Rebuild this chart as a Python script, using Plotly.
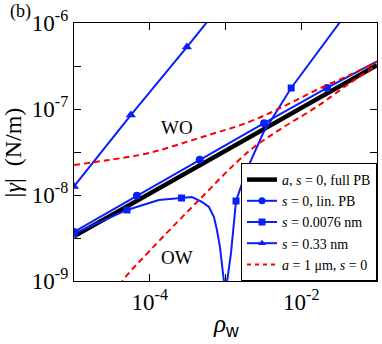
import numpy as np
import plotly.graph_objects as go

# values, stored as log10 exponents
full_pb_x = [-5.0, -4.0, -3.0, -2.0, -1.0]
full_pb_y = [-8.48, -7.98, -7.48, -6.98, -6.49]

lin_pb_x = [-5.0, -4.17, -3.34, -2.49, -1.66, -1.0]
lin_pb_y = [-8.43, -8.01, -7.59, -7.165, -6.755, -6.445]
lin_pb_mx = [-5.0, -4.17, -3.34, -2.49, -1.66]
lin_pb_my = [-8.43, -8.01, -7.59, -7.165, -6.755]

s0076_x = [-5.0, -4.65, -4.30, -3.88, -3.58, -3.444, -3.311, -3.219, -3.152, -3.113,
           -3.073, -3.046, -3.02, -3.0, -2.98, -2.927, -2.861, -2.715, -2.503, -2.133,
           -1.894, -1.656, -1.497, -1.35]
s0076_y = [-8.45, -8.31, -8.174, -8.058, -8.035, -8.023, -8.081, -8.14, -8.256, -8.407,
           -8.605, -8.837, -9.01, -10.5, -9.01, -8.674, -8.07, -7.70, -7.279, -6.756,
           -6.477, -6.198, -6.0, -5.8]
s0076_mx = [-5.0, -4.30, -3.58, -2.861, -2.133]
s0076_my = [-8.45, -8.174, -8.035, -8.07, -6.756]

s033_x = [-5.0, -4.25, -3.51, -2.77]
s033_y = [-7.90, -7.07, -6.28, -5.47]

wo_x = [-5.0, -4.54, -4.01, -3.35, -2.69, -2.25, -1.80, -1.36, -1.0]
wo_y = [-7.651, -7.593, -7.512, -7.337, -7.151, -6.977, -6.779, -6.605, -6.45]

ow_x = [-4.6, -4.36, -3.99, -3.35, -2.69, -2.25, -1.80, -1.36, -1.0]
ow_y = [-9.35, -9.0, -8.64, -8.058, -7.49, -7.22, -6.977, -6.70, -6.49]

x_tickvals = [-5, -4, -3, -2, -1]
x_ticktext = ['', '10<sup>-4</sup>', '', '10<sup>-2</sup>', '']
y_tickvals = [-9, -8.5, -8, -7.5, -7, -6.5, -6]
y_ticktext = ['10<sup>-9</sup>', '', '10<sup>-8</sup>', '', '10<sup>-7</sup>', '', '10<sup>-6</sup>']


def p(v):
    return 10 ** np.array(v, dtype=float)


BLUE = 'rgb(10,30,250)'
RED = 'rgb(250,0,0)'
SERIF = 'Liberation Serif'

fig = go.Figure()

# drawn curves
fig.add_trace(go.Scatter(x=p(full_pb_x), y=p(full_pb_y), mode='lines',
                         line=dict(color='black', width=4.5), showlegend=False))
fig.add_trace(go.Scatter(x=p(lin_pb_x), y=p(lin_pb_y), mode='lines',
                         line=dict(color=BLUE, width=2), showlegend=False))
fig.add_trace(go.Scatter(x=p(lin_pb_mx), y=p(lin_pb_my), mode='markers',
                         marker=dict(color=BLUE, size=8, symbol='circle'), showlegend=False))
fig.add_trace(go.Scatter(x=p(s0076_x), y=p(s0076_y), mode='lines',
                         line=dict(color=BLUE, width=2), showlegend=False))
fig.add_trace(go.Scatter(x=p(s0076_mx), y=p(s0076_my), mode='markers',
                         marker=dict(color=BLUE, size=7, symbol='square'), showlegend=False))
fig.add_trace(go.Scatter(x=p(s033_x), y=p(s033_y), mode='lines+markers',
                         line=dict(color=BLUE, width=2),
                         marker=dict(color=BLUE, size=9, symbol='triangle-up'), showlegend=False))
fig.add_trace(go.Scatter(x=p(wo_x), y=p(wo_y), mode='lines',
                         line=dict(color=RED, width=2, dash='6px,4px', shape='spline'),
                         showlegend=False))
fig.add_trace(go.Scatter(x=p(ow_x), y=p(ow_y), mode='lines',
                         line=dict(color=RED, width=2, dash='6px,4px', shape='spline'),
                         showlegend=False))

# legend entries
legend_items = [
    ('<i>a</i>, <i>s</i> = 0, full PB', 'lines', dict(color='black', width=4.5), None),
    ('<i>s</i> = 0, lin. PB', 'lines+markers', dict(color=BLUE, width=2), 'circle'),
    ('<i>s</i> = 0.0076 nm', 'lines+markers', dict(color=BLUE, width=2), 'square'),
    ('<i>s</i> = 0.33 nm', 'lines+markers', dict(color=BLUE, width=2), 'triangle-up'),
    ('<i>a</i> = 1 \u03bcm, <i>s</i> = 0', 'lines', dict(color=RED, width=2, dash='4px,4px'), None),
]
for name, mode, line, sym in legend_items:
    fig.add_trace(go.Scatter(
        x=[None], y=[None], mode=mode, name=name, line=line,
        marker=dict(color=BLUE, size=7, symbol=sym or 'circle'),
    ))

axis_common = dict(
    type='log', showgrid=False, zeroline=False, automargin=False,
    showline=True, linecolor='black', linewidth=1.3, mirror='allticks',
    ticks='inside', ticklen=7, tickwidth=1, tickcolor='black',
    ticklabeloverflow='allow',
    tickfont=dict(family=SERIF, size=23, color='black'),
)
fig.update_xaxes(axis_common, range=[-5, -1], tickvals=p(x_tickvals), ticktext=x_ticktext)
fig.update_yaxes(axis_common, range=[-9, -6], tickvals=p(y_tickvals), ticktext=y_ticktext)

fig.update_layout(
    width=382, height=344,
    margin=dict(l=74, r=5, t=23, b=63, autoexpand=False),
    plot_bgcolor='white', paper_bgcolor='white',
    font=dict(family=SERIF, color='black'),
    legend=dict(
        x=1, y=0, xanchor='right', yanchor='bottom',
        bgcolor='white', bordercolor='black', borderwidth=1,
        font=dict(family=SERIF, size=14),
        itemwidth=30, tracegroupgap=0,
    ),
    annotations=[
        dict(text='(b)', xref='paper', yref='paper', x=-0.175, y=1.045,
             xanchor='center', yanchor='middle', showarrow=False, font=dict(size=18)),
        dict(text='WO', xref='x', yref='y', x=-3.64, y=-7.22,
             showarrow=False, font=dict(size=19)),
        dict(text='OW', xref='x', yref='y', x=-3.64, y=-8.73,
             showarrow=False, font=dict(size=19)),
        dict(text='|<i>\u03b3</i>|  (N/m)', xref='paper', yref='paper', x=-0.2, y=0.5,
             xanchor='center', yanchor='middle',
             textangle=-90, showarrow=False, font=dict(size=24)),
        dict(text="<i>\u03c1</i><sub><span style='font-family:Liberation Sans'>w</span></sub>",
             xref='paper', yref='paper', x=0.5, y=-0.172,
             xanchor='center', yanchor='middle', showarrow=False, font=dict(size=25)),
    ],
)

# drop the default 8px body margin so the figure sits at the page corner
fig.write_html('out.html', config={'displayModeBar': False},
               post_script="document.body.style.margin = '0';")
